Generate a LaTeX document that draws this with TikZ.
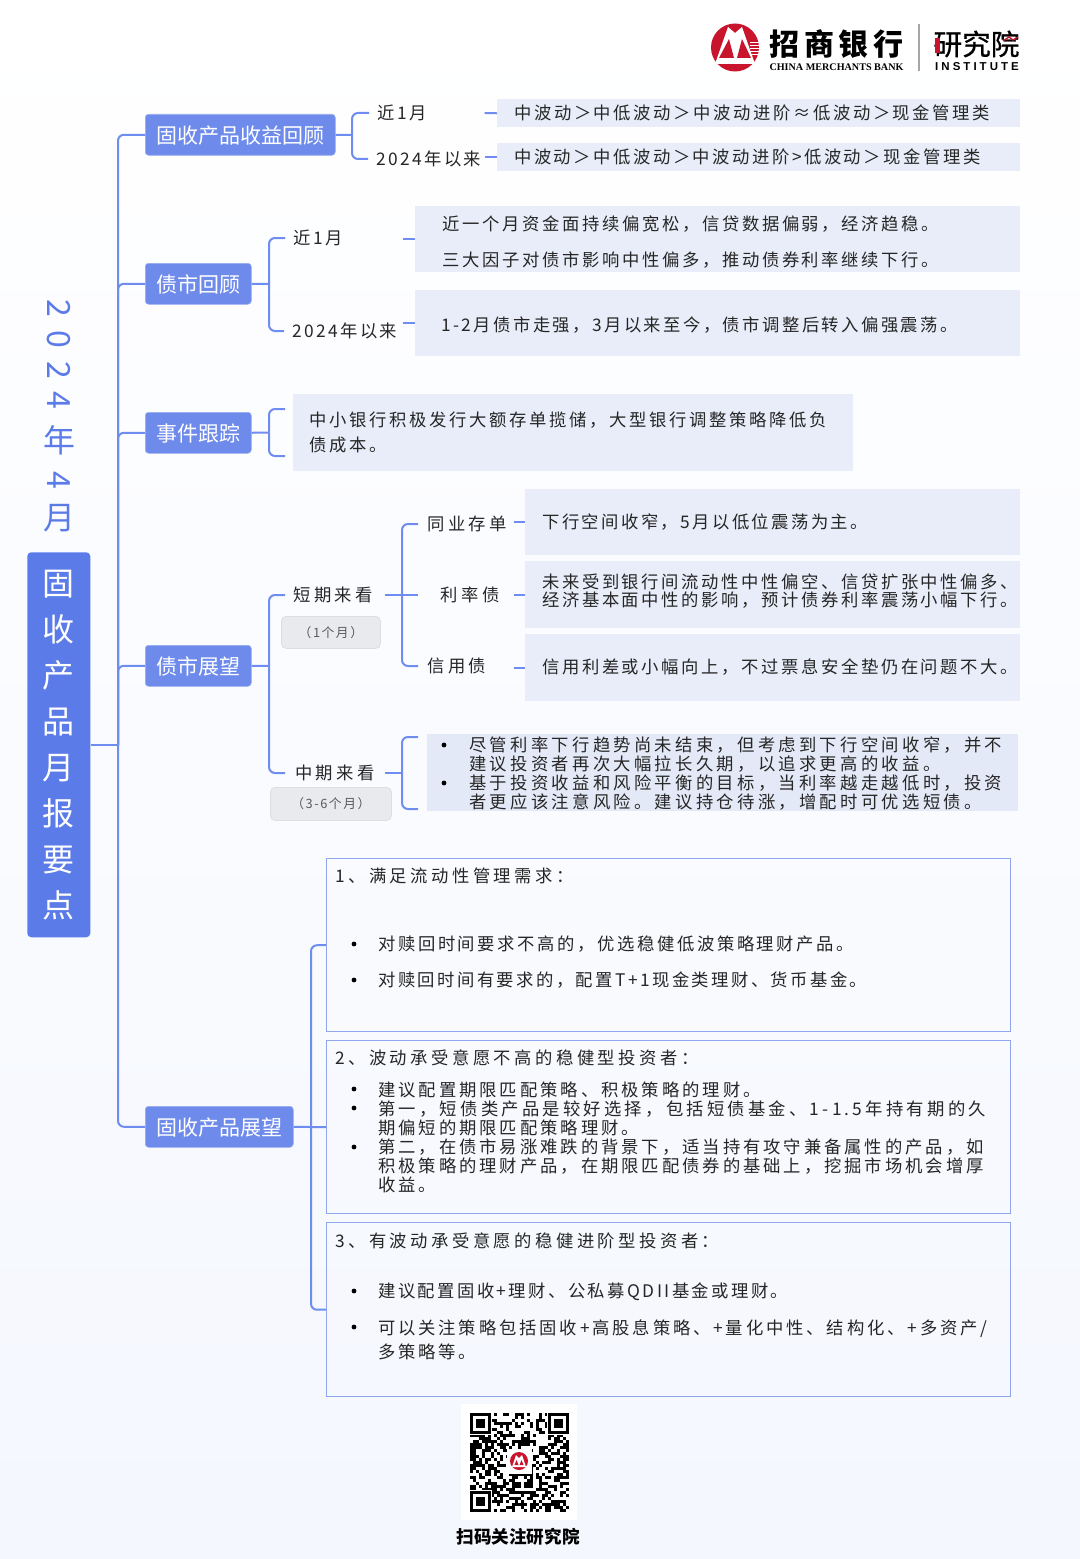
\documentclass[tikz,border=0pt]{standalone}
\usepackage{fontspec}
\usepackage{xcolor}
\setmainfont{Noto Sans CJK SC}[LetterSpace=14]
\newfontfamily\headfont{Noto Sans CJK SC}
\newfontfamily\logofont{Noto Sans CJK SC}[FakeBold=0.8]
\newfontfamily\pillfont{Noto Sans CJK SC}[LetterSpace=12]
\newfontfamily\serifbold{Liberation Serif}[Scale=1]
\newfontfamily\sansbold{Liberation Sans}[LetterSpace=26.5]
\newcommand{\bodyfont}{\fontsize{13}{14.25}\selectfont}
\definecolor{rootblue}{HTML}{5B7BE8}
\definecolor{headblue}{HTML}{6E8BEB}
\definecolor{connblue}{HTML}{6F8DF0}
\definecolor{panelblue}{HTML}{E8EDF9}
\definecolor{listblue}{HTML}{E3E9F6}
\definecolor{frameblue}{HTML}{8FA6EE}
\definecolor{inkgrey}{HTML}{262626}
\definecolor{pillgrey}{HTML}{E9EAEE}
\definecolor{pillline}{HTML}{DDDEE3}
\definecolor{cmbred}{HTML}{C8142C}
\definecolor{paperblue}{HTML}{F4F7FE}

\begin{document}
\begin{tikzpicture}[
      x=0.75pt, y=-0.75pt,
      every node/.style = {inner sep=0pt, text=inkgrey},
      conn/.style = {draw=connblue, line width=1.5pt, rounded corners=4.5pt},
      headbox/.style 2 args = {anchor=north west, fill=headblue, draw=headblue!70!white, line width=0.4pt, rounded corners=2.5pt,
            minimum width=#1*0.75pt, minimum height=#2*0.75pt, text=white, text height=14.7pt, font=\headfont\fontsize{15.75}{18}\selectfont},
      panel/.style 2 args = {anchor=north west, fill=panelblue, minimum width=#1*0.75pt, minimum height=#2*0.75pt},
      frame/.style 2 args = {anchor=north west, draw=frameblue, line width=1.1pt, minimum width=#1*0.75pt, minimum height=#2*0.75pt},
      pill/.style 2 args = {anchor=north west, fill=pillgrey, draw=pillline, line width=0.6pt, rounded corners=3.5pt,
            minimum width=#1*0.75pt, minimum height=#2*0.75pt, text=black!65, font=\pillfont\fontsize{9.6}{11}\selectfont},
      txt/.style = {anchor=west, align=left, font=\bodyfont\addfontfeature{LetterSpace=#1}},
      txt/.default = 15,
      lab/.style 2 args = {anchor=west, align=left, font=\bodyfont\addfontfeature{LetterSpace=#2}, text width=#1},
      dotmark/.style = {circle, fill=black, minimum size=3.6pt}
      ]
      \shade[top color=white, bottom color=paperblue] (0,0) rectangle (1080,1559);

      \fill[cmbred] (735,47.5) circle [radius=24];
      \fill[white] (715,64) -- (728,27) -- (735,33) -- (742,27) -- (755,64) -- cycle;
      \fill[cmbred] (719,58) -- (729,39) -- (734,58) -- cycle;
      \fill[cmbred] (737,58) -- (742,39) -- (751,58) -- cycle;
      \foreach \yy in {42,45,48,51,54}
            \draw[white, line width=0.5pt] (750,\yy) -- (759,\yy);
      \node (bankcn) at (836.5,44) {\headfont\bfseries\fontsize{22.5}{24}\selectfont\textcolor{black}{招\hspace{3.4pt}商\hspace{3.4pt}银\hspace{3.4pt}行}};
      \node (banken) at (836.5,67) {\serifbold\bfseries\fontsize{7.6}{8}\selectfont\textcolor{black}{CHINA MERCHANTS BANK}};
      \draw[black!35, line width=0.8pt] (919,24) -- (919,71);
      \node (institutecn) at (976.5,44) {\logofont\fontsize{21.5}{24}\selectfont\textcolor{black}{研究院}};
      \node (instituteen) at (977,66.5) {\sansbold\bfseries\fontsize{8.6}{10}\selectfont\textcolor{black}{INSTITUTE}};
      \fill[cmbred] (935,38) rectangle (940,53);
      \draw[cmbred, line width=1pt] (1003,41) -- (1009,37) -- (1013,40) -- (1018,37);

      \foreach \yy/\ch/\rr in {308/2/-90, 339/0/-90, 370/2/-90, 400/4/-90, 440/年/0, 480/4/-90, 518/月/0}
            \node[rotate=\rr, font=\headfont\fontsize{24}{26}\selectfont, text=rootblue] (title\yy) at (59,\yy) {\ch};

      \node[anchor=north west, fill=rootblue, rounded corners=3pt, minimum width=47.25pt, minimum height=288.75pt,
            text=white, align=center, font=\headfont\fontsize{24}{34.5}\selectfont] (root) at (27,552)
            {固\\收\\产\\品\\月\\报\\要\\点};

      \node[headbox={190}{41}] (h1) at (145,114) {固收产品收益回顾};
      \node[headbox={106}{41}] (h2) at (145,263) {债市回顾};
      \node[headbox={106}{41}] (h3) at (145,412) {事件跟踪};
      \node[headbox={106}{41}] (h4) at (145,645) {债市展望};
      \node[headbox={148}{41}] (h5) at (145,1106) {固收产品展望};

      \coordinate (trunk) at (118,745);
      \draw[conn] (root.east |- trunk) -- (trunk);
      \foreach \hh in {h1,h2,h3,h4,h5}
            \draw[conn] (trunk) |- (\hh.west);

      \node[lab={80.25pt}{14}] (recent1) at (377,113) {近1月};
      \node[lab={81pt}{14}] (since1) at (376,159) {2024年以来};
      \node[panel={523}{28}] (p1) at (497,99) {};
      \node[panel={523}{28}] (p2) at (497,143) {};
      \node[txt] (p1t) at (514,113) {中波动＞中低波动＞中波动进阶≈低波动＞现金管理类};
      \node[txt=14.5] (p2t) at (514,157) {中波动＞中低波动＞中波动进阶>低波动＞现金管理类};
      \coordinate (j1) at (352,135);
      \draw[conn] (h1.east) -- (j1);
      \draw[conn] (j1) |- ([xshift=-6pt]recent1.west);
      \draw[conn] (j1) |- ([xshift=-6pt]since1.west);
      \draw[conn] (recent1.east) -- (p1.west);
      \draw[conn] (since1.east |- p2.west) -- (p2.west);

      \node[lab={81.75pt}{14}] (recent2) at (293,238) {近1月};
      \node[lab={82.5pt}{14}] (since2) at (292,331) {2024年以来};
      \node[panel={605}{66}] (p3) at (415,206) {};
      \node[panel={605}{66}] (p4) at (415,290) {};
      \node[txt=15.3] (p3t) at (442,242) {近一个月资金面持续偏宽松，信贷数据偏弱，经济趋稳。\\[12.75pt]三大因子对债市影响中性偏多，推动债券利率继续下行。};
      \node[txt=14] (p4t) at (441,325) {1-2月债市走强，3月以来至今，债市调整后转入偏强震荡。};
      \coordinate (j2) at (269,284);
      \draw[conn] (h2.east) -- (j2);
      \draw[conn] (j2) |- ([xshift=-6pt]recent2.west);
      \draw[conn] (j2) |- ([xshift=-6pt]since2.west);
      \draw[conn] (recent2.east |- p3.west) -- (p3.west);
      \draw[conn] (since2.east |- p4.west) -- (p4.west);

      \node[panel={560}{77}] (p5) at (293,394) {};
      \node[txt=15.5] (p5t) at (309,432) {中小银行积极发行大额存单揽储，大型银行调整策略降低负\\[4.5pt]债成本。};
      \coordinate (j3) at (269,432.5);
      \coordinate (e3a) at (285,409);
      \coordinate (e3b) at (285,456);
      \draw[conn] (h3.east) -- (j3);
      \draw[conn] (j3) |- (e3a);
      \draw[conn] (j3) |- (e3b);

      \node[lab={68.25pt}{20}] (short) at (293,595) {短期来看};
      \node[lab={66.75pt}{19}] (middle) at (295,773) {中期来看};
      \node[pill={99}{32}] (pill1) at (281,616) {（1个月）};
      \node[pill={121}{33}] (pill2) at (270,787) {（3-6个月）};
      \coordinate (j4) at (269,666);
      \draw[conn] (h4.east) -- (j4);
      \draw[conn] (j4) |- ([xshift=-6pt]short.west);
      \draw[conn] (j4) |- ([xshift=-7.5pt]middle.west);

      \node[lab={64.5pt}{20}] (interbank) at (427,524) {同业存单};
      \node[lab={64.5pt}{20}, align=center] (rates) at (427,595) {利率债};
      \node[lab={64.5pt}{20}] (credit) at (427,666) {信用债};
      \node[panel={495}{66}] (p6) at (525,489) {};
      \node[panel={495}{67}] (p7) at (525,561) {};
      \node[panel={495}{67}] (p8) at (525,634) {};
      \node[txt=14] (p6t) at (542,522) {下行空间收窄，5月以低位震荡为主。};
      \node[txt] (p7t) at (542,591) {未来受到银行间流动性中性偏空、信贷扩张中性偏多、\\[-0.75pt]经济基本面中性的影响，预计债券利率震荡小幅下行。};
      \node[txt] (p8t) at (542,667) {信用利差或小幅向上，不过票息安全垫仍在问题不大。};
      \coordinate (j5) at (402,595);
      \draw[conn] (short.east) -- (j5);
      \draw[conn] (j5) |- ([xshift=-6.75pt]interbank.west);
      \draw[conn] (j5) -- ([xshift=-6.75pt]rates.west);
      \draw[conn] (j5) |- ([xshift=-6.75pt]credit.west);
      \draw[conn] (interbank.east |- p6.west) -- (p6.west);
      \draw[conn] (rates.east |- p7.west) -- (p7.west);
      \draw[conn] (credit.east |- p8.west) -- (p8.west);

      \node[panel={591}{77}, fill=listblue] (p9) at (427,734) {};
      \node[txt=19] (p9t) at (469,773.5) {尽管利率下行趋势尚未结束，但考虑到下行空间收窄，并不\\建议投资者再次大幅拉长久期，以追求更高的收益。\\基于投资收益和风险平衡的目标，当利率越走越低时，投资\\者更应该注意风险。建议持仓待涨，增配时可优选短债。};
      \coordinate (j6) at (402,773);
      \coordinate (e6a) at (418,737);
      \coordinate (e6b) at (418,809);
      \draw[conn] (middle.east |- j6) -- (j6);
      \draw[conn] (j6) |- (e6a);
      \draw[conn] (j6) |- (e6b);

      \node[frame={684}{173}] (f1) at (326,858) {};
      \node[frame={684}{173}] (f2) at (326,1040) {};
      \node[frame={684}{174}] (f3) at (326,1222) {};
      \coordinate (j7) at (311,1127);
      \draw[conn] (h5.east) -- (f2.west);
      \draw[conn] (j7) |- (f1.west);
      \draw[conn] (j7) |- (f3.west);

      \node[txt=20] (f1h) at (335,876) {1、满足流动性管理需求：};
      \node[txt] (f1a) at (378,944) {对赎回时间要求不高的，优选稳健低波策略理财产品。};
      \node[txt=14] (f1b) at (378,980) {对赎回时间有要求的，配置T+1现金类理财、货币基金。};
      \node[txt=20] (f2h) at (335,1058) {2、波动承受意愿不高的稳健型投资者：};
      \node[txt=17] (f2a) at (378,1137) {建议配置期限匹配策略、积极策略的理财。\\{\addfontfeature{LetterSpace=18.6}第一，短债类产品是较好选择，包括短债基金、1-1.5年持有期的久}\\期偏短的期限匹配策略理财。\\第二，在债市易涨难跌的背景下，适当持有攻守兼备属性的产品，如\\积极策略的理财产品，在期限匹配债券的基础上，挖掘市场机会增厚\\收益。};
      \node[txt=20] (f3h) at (335,1241) {3、有波动承受意愿的稳健进阶型投资者：};
      \node[txt=14] (f3a) at (378,1292) {建议配置固收+理财、公私募QDII基金或理财。};
      \node[txt=16.4] (f3b) at (378,1340) {可以关注策略包括固收+高股息策略、+量化中性、结构化、+多资产/\\[3.75pt]多策略等。};

      \foreach \px/\py in {444/745, 444/783, 354/944, 354/980, 354/1089, 354/1108, 354/1147, 354/1291, 354/1327}
            \node[dotmark] (dot\px-\py) at (\px,\py) {};

      \fill[white] (461,1404) rectangle (577,1520);
      \pgfmathsetseed{2024}
      \foreach \col in {0,...,32}
            \foreach \row in {0,...,32} {
                  \pgfmathrandominteger{\qrbit}{0}{1}
                  \ifnum\qrbit=1
                        \fill[black] (470+3*\col,1413+3*\row) rectangle ++(3,3);
                  \fi
            }
      \foreach \qx/\qy in {470/1413, 548/1413, 470/1491} {
            \fill[white] (\qx-1,\qy-1) rectangle ++(23,23);
            \fill[black] (\qx,\qy) rectangle ++(21,21);
            \fill[white] (\qx+3,\qy+3) rectangle ++(15,15);
            \fill[black] (\qx+6,\qy+6) rectangle ++(9,9);
      }
      \fill[white] (507,1449) rectangle (532,1474);
      \fill[cmbred] (519,1461) circle [radius=9];
      \fill[white] (512,1467) -- (516,1455) -- (519,1458) -- (522,1455) -- (526,1467) -- cycle;
      \fill[cmbred] (514.5,1465) -- (516.5,1460) -- (518.5,1465) -- cycle;
      \fill[cmbred] (519.5,1465) -- (521.5,1460) -- (523.5,1465) -- cycle;

      \node (qrcaption) at (518,1537) {\headfont\bfseries\fontsize{13.2}{15}\selectfont\textcolor{black}{扫码关注研究院}};
    \end{tikzpicture}
\end{document}
